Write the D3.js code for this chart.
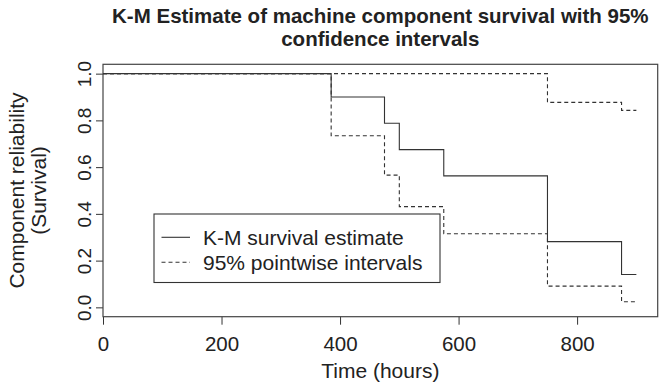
<!DOCTYPE html>
<html>
<head>
<meta charset="utf-8">
<script src="https://cdn.jsdelivr.net/npm/d3@7"></script>
<style>
  body { margin: 0; background: #fff; }
  svg { font-family: "Liberation Sans", Arial, sans-serif; }
  .axis path { display: none; }
  .axis line { stroke: #333; }
  .axis text { fill: #222; }
</style>
</head>
<body>
<svg id="chart" width="660" height="385"></svg>
<script>
// event times (hours) and step values
const times = [0, 385, 475, 500, 575, 750, 875];
const endTime = 900;
const survival = [1, 0.9, 0.7875, 0.675, 0.5625, 0.28125, 0.140625];
const upper = [1, 1, 1, 1, 1, 0.877, 0.843];
const lower = [1, 0.734, 0.566, 0.431, 0.315, 0.091, 0.024];
const xTicks = [0, 200, 400, 600, 800];
const yTicks = [0, 0.2, 0.4, 0.6, 0.8, 1.0];
const legendLabels = ["K-M survival estimate", "95% pointwise intervals"];

const svg = d3.select("#chart");
const pLeft = 103, pRight = 657.7, pTop = 64.3, pBottom = 316.7;

const x = d3.scaleLinear().domain([0, 936]).range([pLeft, pRight]);
const y = d3.scaleLinear().domain([-0.04, 1.04]).range([pBottom, pTop]);

// Title
const titleLines = ["K-M Estimate of machine component survival with 95%", "confidence intervals"];
titleLines.forEach(function (t, i) {
  svg.append("text")
    .attr("x", (pLeft + pRight) / 2)
    .attr("y", 23 + i * 23)
    .attr("text-anchor", "middle")
    .attr("font-weight", "bold")
    .attr("font-size", 20.5)
    .attr("fill", "#222")
    .text(t);
});

// Axes
const xAxis = svg.append("g")
  .attr("class", "axis")
  .attr("transform", "translate(0," + pBottom + ")")
  .call(d3.axisBottom(x).tickValues(xTicks).tickSize(8).tickFormat(d3.format("d")));
xAxis.selectAll(".tick text")
  .attr("y", 34)
  .attr("dy", 0)
  .attr("font-size", 20.5);

const yAxis = svg.append("g")
  .attr("class", "axis")
  .attr("transform", "translate(" + pLeft + ",0)")
  .call(d3.axisLeft(y).tickValues(yTicks).tickSize(7).tickFormat(d3.format(".1f")));

// rotate y tick labels like R's default las=0
yAxis.selectAll(".tick text")
  .attr("x", 0)
  .attr("y", 0)
  .attr("dy", 0)
  .attr("font-size", 19)
  .attr("text-anchor", "middle")
  .attr("transform", "translate(-12,0) rotate(-90)");

// Plot box
svg.append("rect")
  .attr("x", pLeft)
  .attr("y", pTop)
  .attr("width", pRight - pLeft)
  .attr("height", pBottom - pTop)
  .attr("fill", "none")
  .attr("stroke", "#444")
  .attr("stroke-width", 1.2);

// Axis labels
svg.append("text")
  .attr("x", (pLeft + pRight) / 2)
  .attr("y", 378)
  .attr("text-anchor", "middle")
  .attr("font-size", 21)
  .attr("fill", "#222")
  .text("Time (hours)");

const ymid = y(0.5);
svg.append("text")
  .attr("transform", "translate(24," + ymid + ") rotate(-90)")
  .attr("text-anchor", "middle")
  .attr("font-size", 21)
  .attr("fill", "#222")
  .text("Component reliability");
svg.append("text")
  .attr("transform", "translate(46," + ymid + ") rotate(-90)")
  .attr("text-anchor", "middle")
  .attr("font-size", 21)
  .attr("fill", "#222")
  .text("(Survival)");

// Step curves
function series(vals) {
  const pts = times.map(function (t, i) { return [t, vals[i]]; });
  pts.push([endTime, vals[vals.length - 1]]);
  return pts;
}
const line = d3.line()
  .x(function (d) { return x(d[0]); })
  .y(function (d) { return y(d[1]); })
  .curve(d3.curveStepAfter);

[upper, lower].forEach(function (v) {
  svg.append("path")
    .attr("d", line(series(v)))
    .attr("fill", "none")
    .attr("stroke", "#333")
    .attr("stroke-width", 1.1)
    .attr("stroke-dasharray", "4,3");
});
svg.append("path")
  .attr("d", line(series(survival)))
  .attr("fill", "none")
  .attr("stroke", "#333")
  .attr("stroke-width", 1.1);

// Legend
const legend = svg.append("g");
legend.append("rect")
  .attr("x", 154)
  .attr("y", 214)
  .attr("width", 286)
  .attr("height", 68.5)
  .attr("fill", "#fff")
  .attr("stroke", "#333")
  .attr("stroke-width", 1.1);

legendLabels.forEach(function (lab, i) {
  const ly = 237.3 + i * 25;
  legend.append("line")
    .attr("x1", 161.5).attr("x2", 190)
    .attr("y1", ly).attr("y2", ly)
    .attr("stroke", "#333")
    .attr("stroke-width", 1.1)
    .attr("stroke-dasharray", i === 1 ? "4,3" : null);
  legend.append("text")
    .attr("x", 203)
    .attr("y", ly + 7.3)
    .attr("font-size", 21)
    .attr("fill", "#222")
    .text(lab);
});
</script>
</body>
</html>
